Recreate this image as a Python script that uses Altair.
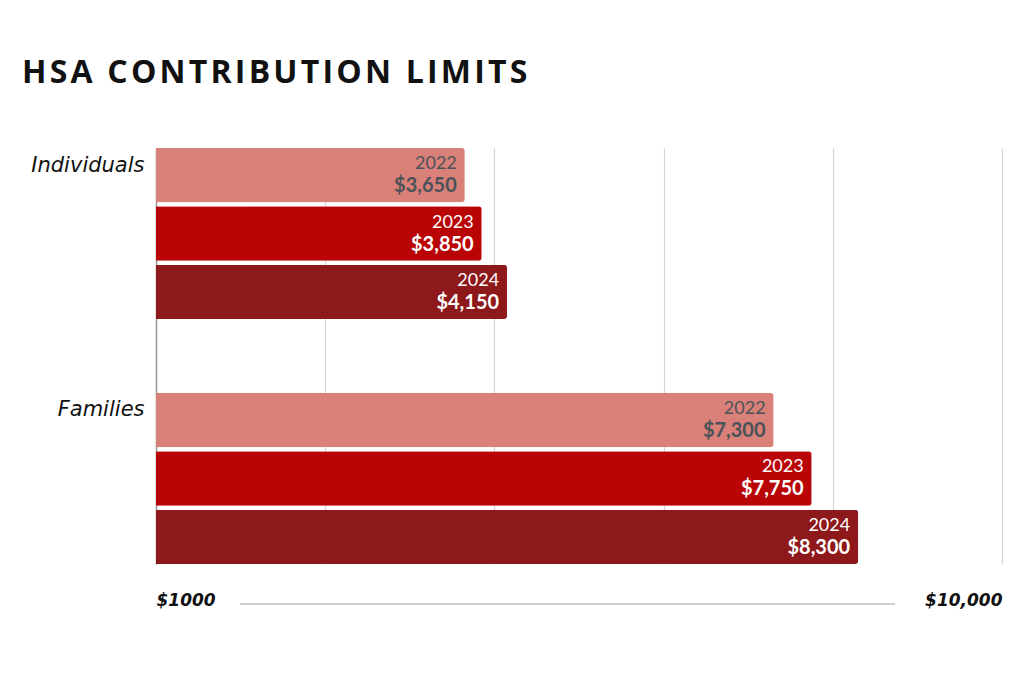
import pandas as pd
import altair as alt

# Data
groups = ["Individuals", "Families"]
years = ["2022", "2023", "2024"]
individuals = [3650, 3850, 4150]
families = [7300, 7750, 8300]
bar_colors = ["#D98078", "#B90505", "#8E191B"]
title_text = "HSA CONTRIBUTION LIMITS"

rows = []
for g, vals in zip(groups, [individuals, families]):
    for y, v in zip(years, vals):
        rows.append({"group": g, "year": y, "value": v, "label": "${:,}".format(v)})
df = pd.DataFrame(rows)

W, H = 846, 416

# a little letter spacing for the title (hair spaces)
spaced_title = "\u200a".join(title_text)

y_enc = alt.Y("group:N", sort=groups, title=None,
              scale=alt.Scale(paddingInner=0.302, paddingOuter=0),
              axis=alt.Axis(labelFont="DejaVu Sans", labelFontStyle="italic",
                            labelFontSize=21, labelColor="#111", labelPadding=12,
                            labelOffset=-68, ticks=False, grid=False, domainColor="#9a9a9a",
                            domainWidth=1.5, minExtent=134, maxExtent=134))
yoff = alt.YOffset("year:N", sort=years, scale=alt.Scale(paddingInner=0.069, paddingOuter=0))

base = alt.Chart(df).encode(y=y_enc, yOffset=yoff)

bars = base.mark_bar(cornerRadiusEnd=3).encode(
    x=alt.X("value:Q", title=None,
            scale=alt.Scale(domain=[0, 10000], nice=False),
            axis=alt.Axis(values=[0, 2000, 4000, 6000, 8000, 10000],
                          labelExpr="datum.value == 0 ? '$1000' : datum.value == 10000 ? '$10,000' : ''",
                          labelFlush=True, labelFont="DejaVu Sans", labelFontStyle="italic",
                          labelFontWeight="bold", labelFontSize=17, labelColor="#111",
                          labelPadding=28, ticks=False, domain=False, grid=True,
                          gridColor="#d6d6d6", gridWidth=1.2)),
    color=alt.Color("year:N", sort=years, legend=None,
                    scale=alt.Scale(domain=years, range=bar_colors)),
)

txt_color = alt.condition("datum.year == '2022'", alt.value("#4b5259"), alt.value("white"))

year_txt = base.mark_text(align="right", baseline="middle", dx=-8, dy=-11,
                          font="Lato", fontSize=18).encode(
    x="value:Q", text="year:N", color=txt_color)

val_txt = base.mark_text(align="right", baseline="middle", dx=-8, dy=11,
                         font="Lato", fontSize=20, fontWeight="bold").encode(
    x="value:Q", text="label:N", color=txt_color)

line = alt.Chart(df).mark_rule(color="#cfcfcf", strokeWidth=1.5).encode(
    x=alt.value(84), x2=alt.value(739), y=alt.value(H + 40))

chart = alt.layer(bars, year_txt, val_txt, line).properties(
    width=W, height=H,
    padding={"left": 14, "top": 49, "right": 5, "bottom": 5},
    title=alt.TitleParams(spaced_title, anchor="start", frame="group",
                          dx=-134, offset=58, font="Open Sans", fontSize=32,
                          fontWeight="bold", color="#111"),
).configure_view(stroke=None)

chart.save("out.html", embed_options={"renderer": "svg", "actions": False})
